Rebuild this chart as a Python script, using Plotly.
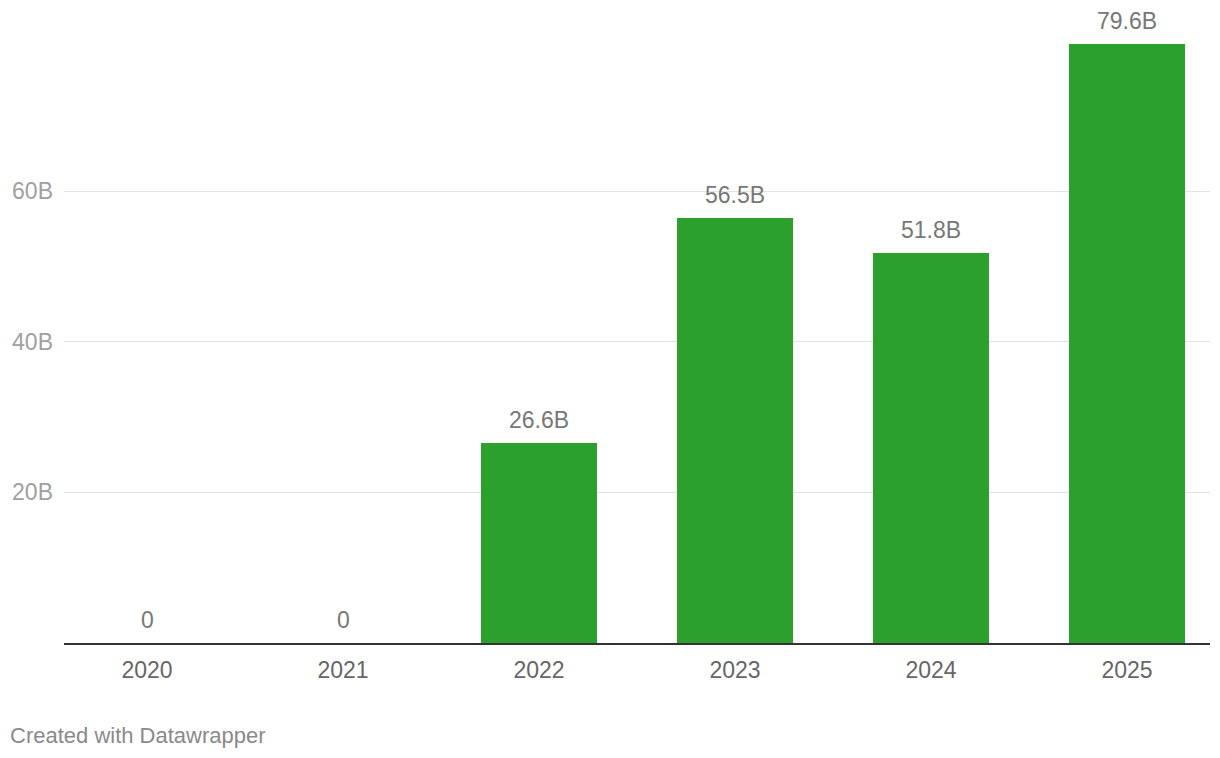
import plotly.graph_objects as go

years = ["2020", "2021", "2022", "2023", "2024", "2025"]
values_b = [0, 0, 26.6, 56.5, 51.8, 79.6]
y_tick_vals = [20, 40, 60]
y_tick_text = ["20B", "40B", "60B"]

labels = ["0" if v == 0 else f"{v}B" for v in values_b]
FONT = "Liberation Sans, Arial, Helvetica, sans-serif"
xs = list(range(len(years)))

fig = go.Figure(go.Bar(
    x=xs,
    y=values_b,
    width=0.587,
    marker=dict(color="#2ca02c", line=dict(width=0)),
    hoverinfo="skip",
))

annotations = [dict(
    x=x, y=v, xref="x", yref="y", text=t,
    showarrow=False, xanchor="center", yanchor="middle", yshift=23,
    font=dict(family=FONT, size=23, color="#777777"),
) for x, v, t in zip(xs, values_b, labels)]

annotations.append(dict(
    text="Created with Datawrapper",
    xref="paper", yref="paper", x=0, y=0,
    xanchor="left", yanchor="middle",
    xshift=-56, yshift=-92,
    showarrow=False,
    font=dict(family=FONT, size=22, color="#8a8a8a"),
))

fig.update_layout(
    width=1212, height=750,
    margin=dict(l=56, r=10, t=2, b=115),
    plot_bgcolor="white", paper_bgcolor="white",
    showlegend=False,
    bargap=0,
    xaxis=dict(
        range=[-0.4235, 5.4235],
        tickvals=xs,
        ticktext=years,
        showgrid=False, zeroline=False,
        showline=True, linecolor="#333333", linewidth=2,
        ticks="", ticklabelstandoff=5,
        tickfont=dict(family=FONT, size=23, color="#666666"),
        fixedrange=True,
    ),
    yaxis=dict(
        range=[0, 84.06],
        tickvals=y_tick_vals,
        ticktext=y_tick_text,
        showgrid=True, gridcolor="#e3e3e3", gridwidth=1,
        zeroline=False, showline=False, ticks="",
        ticklabelstandoff=10,
        tickfont=dict(family=FONT, size=23, color="#a0a0a0"),
        fixedrange=True,
    ),
    annotations=annotations,
)

fig.write_html("out.html")
